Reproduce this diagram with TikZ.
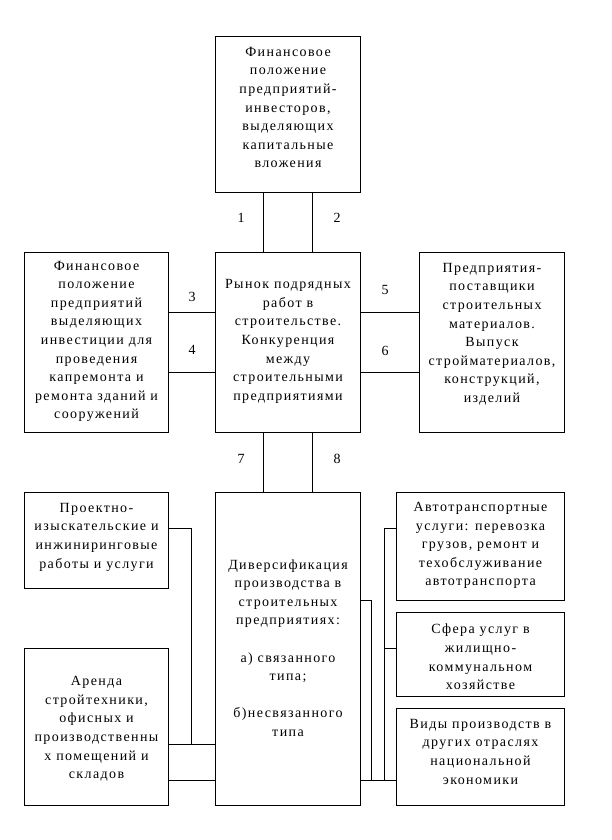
\documentclass[tikz,border=0pt]{standalone}
\usepackage{fontspec}
\setmainfont{Liberation Serif}[LetterSpace=10]
\begin{document}
\begin{tikzpicture}[x=1pt,y=-1pt,
  box/.style={draw, line width=1pt, inner sep=0pt, anchor=north west},
  txt/.style={align=center, inner sep=0pt, font=\fontsize{14}{18.6}\selectfont},
  num/.style={inner sep=0pt, font=\fontsize{14}{16}\selectfont},
  ln/.style={line width=1pt}]
\useasboundingbox (0,0) rectangle (612,840);
% boxes
\node[box, minimum width=145pt, minimum height=156pt] (top) at (215,36) {};
\node[box, minimum width=144pt, minimum height=180pt] (lft) at (24,252) {};
\node[box, minimum width=145pt, minimum height=180pt] (ctr) at (215,252) {};
\node[box, minimum width=145pt, minimum height=180pt] (rgt) at (419,252) {};
\node[box, minimum width=144pt, minimum height=96pt] (prk) at (24,492) {};
\node[box, minimum width=144pt, minimum height=157pt] (arn) at (24,648) {};
\node[box, minimum width=145pt, minimum height=313pt] (div) at (215,492) {};
\node[box, minimum width=168pt, minimum height=108pt] (avt) at (396,492) {};
\node[box, minimum width=168pt, minimum height=84pt] (sfr) at (396,612) {};
\node[box, minimum width=168pt, minimum height=97pt] (vid) at (396,708) {};
% texts
\node[txt, anchor=north] (ttop) at ([yshift=-11pt]top.north) {Финансовое\\положение\\предприятий-\\инвесторов,\\выделяющих\\капитальные\\вложения};
\node[txt] (tlft) at ([yshift=1pt]lft.center) {Финансовое\\положение\\предприятий\\выделяющих\\инвестиции для\\проведения\\капремонта и\\ремонта зданий и\\сооружений};
\node[txt] (tctr) at ([yshift=1pt]ctr.center) {Рынок подрядных\\работ в\\строительстве.\\Конкуренция\\между\\строительными\\предприятиями};
\node[txt, anchor=north] (trgt) at ([yshift=-11pt]rgt.north) {Предприятия-\\поставщики\\строительных\\материалов.\\Выпуск\\стройматериалов,\\конструкций,\\изделий};
\node[txt, anchor=north] (tprk) at ([yshift=-11pt]prk.north) {Проектно-\\изыскательские и\\инжиниринговые\\работы и услуги};
\node[txt] (tarn) at ([yshift=-2pt]arn.center) {Аренда\\стройтехники,\\офисных и\\производственны\\х помещений и\\складов};
\node[txt] (tdiv) at ([yshift=1pt]div.center) {Диверсификация\\производства в\\строительных\\предприятиях:\\[18.6pt]а) связанного\\типа;\\[18.6pt]б)несвязанного\\типа};
\node[txt, anchor=north] (tavt) at ([yshift=-10pt]avt.north) {Автотранспортные\\услуги: перевозка\\грузов, ремонт и\\техобслуживание\\автотранспорта};
\node[txt, anchor=north] (tsfr) at ([yshift=-12pt]sfr.north) {Сфера услуг в\\жилищно-\\коммунальном\\хозяйстве};
\node[txt, anchor=north] (tvid) at ([yshift=-11pt]vid.north) {Виды производств в\\других отраслях\\национальной\\экономики};
% numbers
\node[num] (n1) at (241,218) {1};
\node[num] (n2) at (337,218) {2};
\node[num] (n3) at (192,297) {3};
\node[num] (n4) at (192,350) {4};
\node[num] (n5) at (385,290) {5};
\node[num] (n6) at (385,351) {6};
\node[num] (n7) at (241,459) {7};
\node[num] (n8) at (337,459) {8};
% upper connectors
\draw[ln] ([xshift=-24.5pt]top.south) -- ([xshift=-24.5pt]ctr.north);
\draw[ln] ([xshift=24.5pt]top.south) -- ([xshift=24.5pt]ctr.north);
\draw[ln] ([yshift=30pt]lft.east) -- ([yshift=30pt]ctr.west);
\draw[ln] ([yshift=-30pt]lft.east) -- ([yshift=-30pt]ctr.west);
\draw[ln] ([yshift=30pt]ctr.east) -- ([yshift=30pt]rgt.west);
\draw[ln] ([yshift=-30pt]ctr.east) -- ([yshift=-30pt]rgt.west);
\draw[ln] ([xshift=-24.5pt]ctr.south) -- ([xshift=-24.5pt]div.north);
\draw[ln] ([xshift=24.5pt]ctr.south) -- ([xshift=24.5pt]div.north);
% lower left connectors
\coordinate (jl) at (191,744);
\coordinate (bl) at (191,780);
\draw[ln] ([yshift=12pt]prk.east) -| (jl);
\draw[ln] (arn.east |- jl) -- (div.west |- jl);
\draw[ln] (arn.east |- bl) -- (div.west |- bl);
% lower right connectors
\coordinate (jr1) at (371,780);
\coordinate (jr2) at (384,780);
\coordinate (jr3) at (384,648);
\draw[ln] ([yshift=48.5pt]div.east) -| (jr1);
\draw[ln] (div.east |- jr1) -- (vid.west |- jr1);
\draw[ln] ([yshift=18pt]avt.west) -| (jr2);
\draw[ln] (sfr.west |- jr3) -- (jr3);
\end{tikzpicture}
\end{document}
